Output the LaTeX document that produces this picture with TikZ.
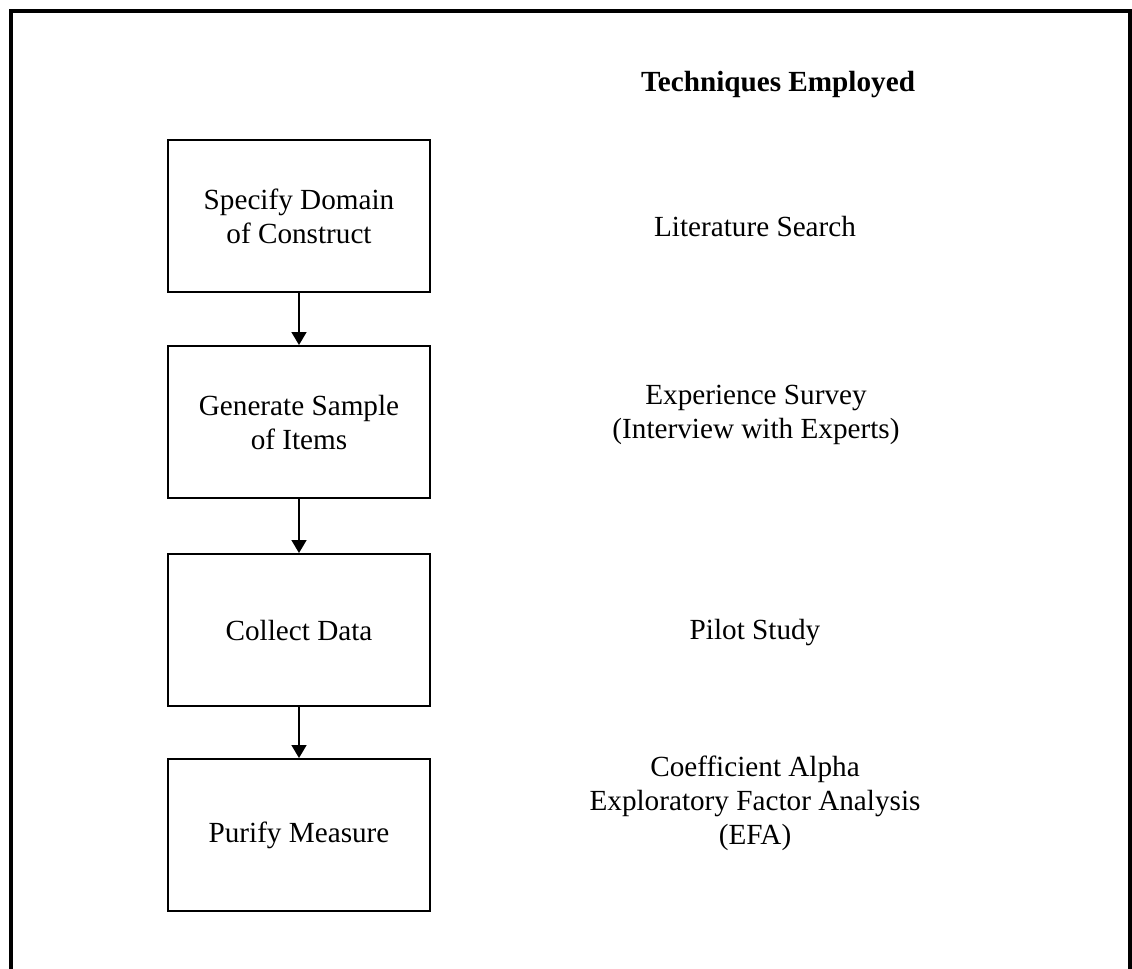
\documentclass[tikz,border=0pt]{standalone}
\usepackage{fontspec}
\setmainfont{Liberation Serif}
\usetikzlibrary{arrows.meta}
\begin{document}
\begin{tikzpicture}[x=0.5bp,y=-0.5bp,
  stepbox/.style={draw,line width=1bp,minimum width=131bp,minimum height=76bp,align=center,inner sep=0pt},
  tech/.style={align=center,inner sep=0pt},
  flow/.style={line width=0.8bp,-{Triangle[length=6.5bp,width=7.5bp]}},
  every node/.style={font=\fontsize{14.6bp}{17bp}\selectfont}]
\useasboundingbox (0,0) rectangle (1132,968);
\clip (0,0) rectangle (1132,968);
\draw[line width=2bp] (11,1000) -- (11,11) -- (1130,11) -- (1130,1000);
\node[tech,font=\fontsize{14.6bp}{17bp}\selectfont\bfseries] (title) at (778,85) {Techniques Employed};
\node[stepbox] (b1) at (299,216) {Specify Domain\\of Construct};
\node[stepbox] (b2) at (299,422) {Generate Sample\\of Items};
\node[stepbox] (b3) at (299,630) {Collect Data};
\node[stepbox] (b4) at (299,835) {Purify Measure};
\node[tech] (t1) at (755,227) {Literature Search};
\node[tech] (t2) at (756,415) {Experience Survey\\(Interview with Experts)};
\node[tech] (t3) at (755,633) {Pilot Study};
\node[tech] (t4) at (755,803) {Coefficient Alpha\\Exploratory Factor Analysis\\(EFA)};
\draw[flow] (b1) -- (b2);
\draw[flow] (b2) -- (b3);
\draw[flow] (b3) -- (b4);
\end{tikzpicture}
\end{document}
